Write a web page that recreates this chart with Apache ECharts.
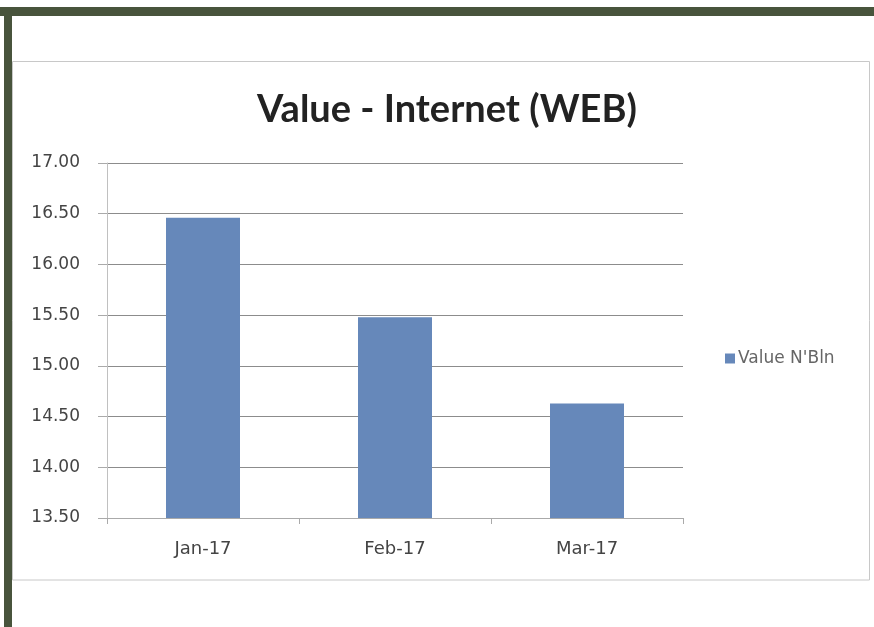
<!DOCTYPE html>
<html><head><meta charset="utf-8">
<script src="https://cdn.jsdelivr.net/npm/echarts@6/dist/echarts.min.js"></script>
<style>html,body{margin:0;padding:0;background:#fff;}#c{width:874px;height:627px;}</style>
</head><body><div id="c"></div>
<script>
var categories = ['Jan-17', 'Feb-17', 'Mar-17'];
var values = [16.46, 15.48, 14.63];
var seriesName = "Value N'Bln";
var titleText = 'Value - Internet (WEB)';

var chart = echarts.init(document.getElementById('c'));
chart.setOption({
  animation: false,
  backgroundColor: '#fff',
  graphic: [
    {type: 'rect', shape: {x: 0, y: 7, width: 874, height: 9}, style: {fill: '#48543c'}, z: 10},
    {type: 'rect', shape: {x: 4, y: 7, width: 8, height: 620}, style: {fill: '#48543c'}, z: 10},
    {type: 'rect', shape: {x: 12.5, y: 61.5, width: 857, height: 518.5}, style: {fill: 'none', stroke: '#c8c8c8', lineWidth: 1}, z: 1}
  ],
  title: {
    text: titleText, left: 442, top: 86, textAlign: 'center',
    textStyle: {fontFamily: 'Lato', fontWeight: 'bold', fontSize: 38, color: '#222'}
  },
  legend: {
    data: [seriesName], left: 720, top: 345, icon: 'rect', itemWidth: 10, itemHeight: 10, itemGap: 4,
    textStyle: {fontFamily: 'DejaVu Sans', fontSize: 17, color: '#666', padding: [0,0,0,-2]}
  },
  grid: {left: 107, right: 191, top: 163, bottom: 109, containLabel: false},
  xAxis: {
    type: 'category', data: categories,
    axisLine: {show: true, lineStyle: {color: '#aaa'}},
    axisTick: {show: true, length: 6, lineStyle: {color: '#aaa'}},
    axisLabel: {fontFamily: 'DejaVu Sans', fontSize: 18, color: '#444', margin: 22}
  },
  yAxis: {
    type: 'value', min: 13.5, max: 17, interval: 0.5,
    axisLine: {show: true, lineStyle: {color: '#c0c0c0'}},
    axisTick: {show: true, length: 9, lineStyle: {color: '#aaa'}},
    splitLine: {show: true, lineStyle: {color: '#8c8c8c', width: 1}},
    axisLabel: {fontFamily: 'DejaVu Sans', fontSize: 17, color: '#444', margin: 27,
      formatter: function (v) { return v.toFixed(2); }}
  },
  series: [{
    name: seriesName, type: 'bar', data: values, barWidth: 74,
    itemStyle: {color: '#6688ba'}
  }]
});
</script></body></html>
